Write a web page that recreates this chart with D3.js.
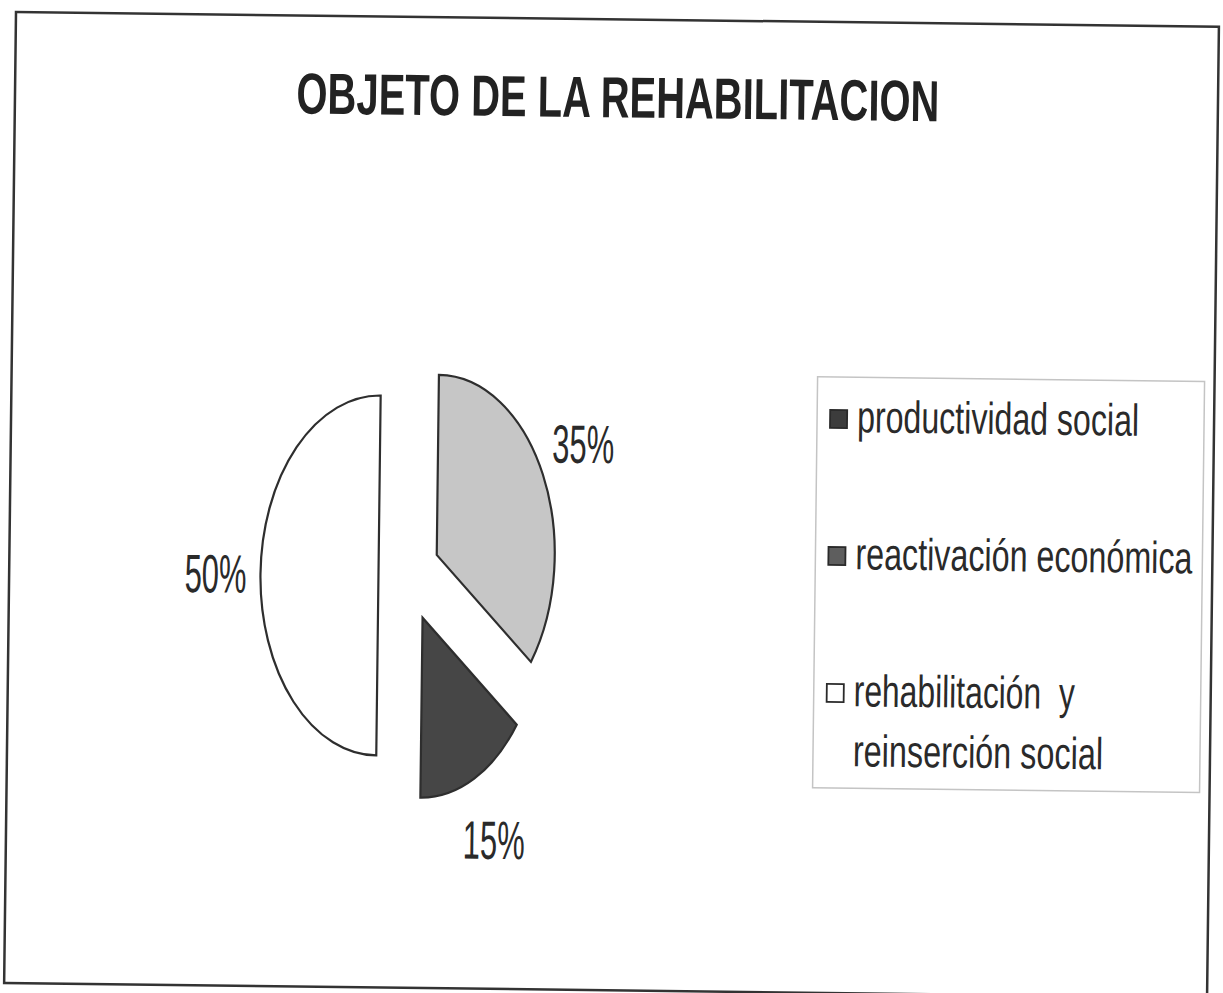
<!DOCTYPE html>
<html>
<head>
<meta charset="utf-8">
<script src="https://cdn.jsdelivr.net/npm/d3@7"></script>
<style>
  html, body { margin: 0; padding: 0; background: #fff; }
  svg { display: block; }
</style>
</head>
<body>
<svg id="chart" width="1223" height="993"></svg>
<script>
// ---- data ----
const title = "OBJETO DE LA REHABILITACION";
const categories = ["productividad social", "reactivación económica", "rehabilitación  y reinserción social"];
const values = [35, 15, 50];
const valueLabels = ["35%", "15%", "50%"];
const legendLines = [["productividad social"], ["reactivación económica"], ["rehabilitación  y", "reinserción social"]];

// ---- styles ----
const sliceFill = ["#c6c6c6", "#464646", "#ffffff"];
const swatchFill = ["#3c3c3c", "#5e5e5e", "#ffffff"];
const ink = "#2a2a2a";
const font = "'Liberation Sans', Arial, sans-serif";

const svg = d3.select("#chart");
const W = 1223, H = 993;
svg.append("rect").attr("width", W).attr("height", H).attr("fill", "#fff");

// slight scan rotation
const g = svg.append("g").attr("transform", "rotate(0.7,16,12)");

// outer frame
g.append("rect").attr("x", 16).attr("y", 12).attr("width", 1203).attr("height", 971)
  .attr("fill", "none").attr("stroke", "#333").attr("stroke-width", 2.5);

// title
g.append("text").attr("x", 619).attr("y", 110)
  .attr("text-anchor", "middle")
  .attr("font-family", font).attr("font-weight", "bold").attr("font-size", 58)
  .attr("fill", "#222")
  .attr("textLength", 643).attr("lengthAdjust", "spacingAndGlyphs")
  .text(title);

// pie (elliptical, exploded)
const cx = 416, cy = 571, rx = 118, ry = 180, R = 100, explode = 0.26;
const labelR = 1.38;
const pie = d3.pie().sort(null).value(d => d)(values);
const arc = d3.arc().innerRadius(0).outerRadius(R);

const slices = g.append("g");
pie.forEach((p, i) => {
  const mid = (p.startAngle + p.endAngle) / 2;
  const ox = Math.sin(mid) * explode * rx;
  const oy = -Math.cos(mid) * explode * ry;
  slices.append("path")
    .attr("d", arc(p))
    .attr("transform", `translate(${cx + ox},${cy + oy}) scale(${rx / R},${ry / R})`)
    .attr("fill", sliceFill[i])
    .attr("stroke", "#2e2e2e").attr("stroke-width", 2.2)
    .attr("vector-effect", "non-scaling-stroke");
  const lx = cx + ox + Math.sin(mid) * labelR * rx;
  const ly = cy + oy - Math.cos(mid) * labelR * ry;
  slices.append("text")
    .attr("x", lx).attr("y", ly)
    .attr("text-anchor", "middle").attr("dominant-baseline", "central")
    .attr("font-family", font).attr("font-size", 54).attr("fill", ink)
    .attr("textLength", 62).attr("lengthAdjust", "spacingAndGlyphs")
    .text(valueLabels[i]);
});

// legend
const lg = g.append("g");
lg.append("rect").attr("x", 822).attr("y", 367).attr("width", 387).attr("height", 411)
  .attr("fill", "none").attr("stroke", "#c4c4c4").attr("stroke-width", 1.5);

const legendY = [409, 546, 683];
const legendWidths = [[282], [337], [221, 250]];
categories.forEach((c, i) => {
  lg.append("rect")
    .attr("x", 835).attr("y", legendY[i] - 9).attr("width", 17).attr("height", 18)
    .attr("fill", swatchFill[i]).attr("stroke", "#2a2a2a").attr("stroke-width", 1.8);
  legendLines[i].forEach((line, j) => {
    lg.append("text")
      .attr("x", 862).attr("y", legendY[i] + 13 + j * 60)
      .attr("font-family", font).attr("font-size", 45).attr("fill", ink)
      .attr("textLength", legendWidths[i][j]).attr("lengthAdjust", "spacingAndGlyphs")
      .attr("xml:space", "preserve")
      .style("white-space", "pre")
      .text(line);
  });
});
</script>
</body>
</html>
